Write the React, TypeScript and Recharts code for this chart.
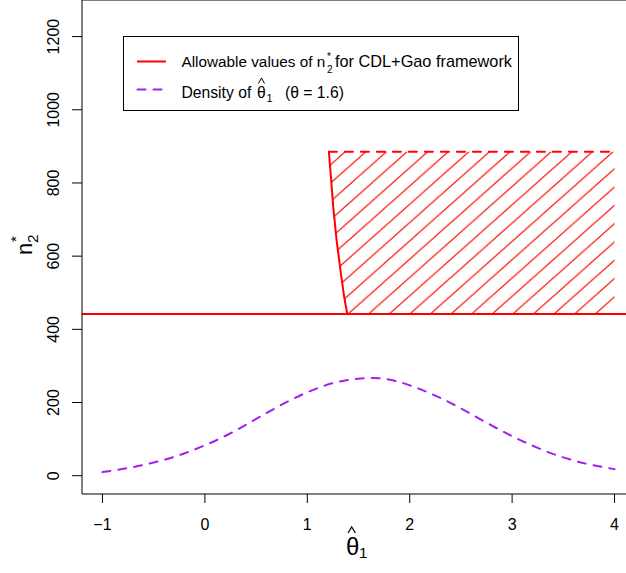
import {ComposedChart, XAxis, YAxis, Line, Area, ReferenceLine} from 'recharts';

const FONT = '"Liberation Sans", Arial, Helvetica, sans-serif';

// density of theta-hat_1
const densityX = [-1, -0.75, -0.5, -0.25, 0, 0.25, 0.5, 0.75, 1, 1.25, 1.5, 1.75, 2, 2.25, 2.5, 2.75, 3, 3.25, 3.5, 3.75, 4];
const densityY = [10, 21, 36, 56, 83, 116, 155, 194, 228, 253, 265, 265, 247, 219, 184, 145, 108, 76, 50, 31, 18];

// left (curved) edge of the allowable region
const edgeX = [1.211, 1.228, 1.253, 1.286, 1.328, 1.36, 1.39];
const edgeY = [885, 826, 735, 644, 553, 489, 442];

const allowLow = 442;
const allowHigh = 885;
const allowRight = 4;

const xTicks = [-1, 0, 1, 2, 3, 4];
const yTicks = [0, 200, 400, 600, 800, 1000, 1200];
const xDomain: [number, number] = [-1.2, 4.2];
const yDomain: [number, number] = [-50, 1300];

const legendLabels = ['Allowable values of n', 'for CDL+Gao framework', 'Density of', '(\u03b8 = 1.6)'];

const densityData = densityX.map((x, i) => ({x, y: densityY[i]}));
const edgeData = edgeX.map((x, i) => ({x, y: edgeY[i]}));
const hatchData = [
  ...edgeX.map((x, i) => ({x, range: [edgeY[i], allowHigh]})),
  {x: allowRight, range: [allowLow, allowHigh]},
];
const topData = [
  {x: edgeX[0], y: allowHigh},
  {x: allowRight, y: allowHigh},
];

const HW = 20.6;
const HH = 18.3;

const YTick = (props: any) => {
  const {x, y, payload} = props;
  return (
    <text
      x={x}
      y={y}
      transform={`rotate(-90, ${x}, ${y})`}
      textAnchor="middle"
      fontSize={16}
      fontFamily={FONT}
      fill="#000"
    >
      {payload.value}
    </text>
  );
};

export default function App() {
  return (
    <div style={{position: 'absolute', left: 0, top: 0, width: 626, height: 573, overflow: 'hidden', background: '#fff'}}>
      <ComposedChart width={640} height={573} margin={{top: 0, right: 5, bottom: 0, left: 0}}>
        <defs>
          <pattern id="hatch" patternUnits="userSpaceOnUse" x={348} y={314 - HH} width={HW} height={HH}>
            <path
              d={`M${-HW},${HH} L${HW},${-HH} M${-HW},${2 * HH} L${2 * HW},${-HH} M0,${2 * HH} L${2 * HW},0`}
              stroke="#FF0000"
              strokeWidth={1.2}
              fill="none"
            />
          </pattern>
        </defs>
        <XAxis
          type="number"
          dataKey="x"
          domain={xDomain}
          ticks={xTicks}
          allowDataOverflow
          height={79}
          tickSize={9}
          tickMargin={16}
          tickFormatter={(v: number) => String(v).replace('-', '\u2212')}
          tick={{fill: '#000', fontSize: 16, fontFamily: FONT}}
          tickLine={{stroke: '#000'}}
          axisLine={{stroke: '#000'}}
        />
        <YAxis
          type="number"
          domain={yDomain}
          ticks={yTicks}
          allowDataOverflow
          width={82}
          tickSize={10}
          tickMargin={13}
          tick={<YTick />}
          tickLine={{stroke: '#000'}}
          axisLine={{stroke: '#000'}}
        />
        <ReferenceLine y={yDomain[1]} stroke="#000" />
        <Area
          data={hatchData}
          dataKey="range"
          type="linear"
          fill="url(#hatch)"
          fillOpacity={1}
          stroke="none"
          isAnimationActive={false}
        />
        <Line data={edgeData} dataKey="y" type="linear" stroke="#FF0000" strokeWidth={2} dot={false} isAnimationActive={false} />
        <Line
          data={topData}
          dataKey="y"
          type="linear"
          stroke="#FF0000"
          strokeWidth={2}
          strokeDasharray="8 8"
          strokeLinecap="round"
          dot={false}
          isAnimationActive={false}
        />
        <ReferenceLine y={allowLow} stroke="#FF0000" strokeWidth={2} />
        <Line
          data={densityData}
          dataKey="y"
          type="natural"
          stroke="#A020F0"
          strokeWidth={2}
          strokeDasharray="8 8"
          strokeLinecap="round"
          dot={false}
          isAnimationActive={false}
        />

        {/* legend */}
        <g fontFamily={FONT} fill="#000">
          <rect x={123.5} y={36.5} width={395} height={74} fill="#fff" stroke="#000" />
          <line x1={137} x2={166} y1={61.5} y2={61.5} stroke="#FF0000" strokeWidth={2} />
          <line
            x1={137.5}
            x2={166}
            y1={89.5}
            y2={89.5}
            stroke="#A020F0"
            strokeWidth={2}
            strokeDasharray="8 8"
            strokeLinecap="round"
          />
          <text x={181.5} y={66.5} fontSize={15.3}>{legendLabels[0]}</text>
          <text x={327} y={73} fontSize={10}>2</text>
          <text x={327} y={59.5} fontSize={10}>*</text>
          <text x={335} y={66.5} fontSize={15.7} textLength={177} lengthAdjust="spacingAndGlyphs">{legendLabels[1]}</text>
          <text x={181.5} y={98} fontSize={15.7}>{legendLabels[2]}</text>
          <text x={257} y={98} fontSize={15.7}>{'\u03b8'}</text>
          <path d="M258.5,83.5 L261.5,78 L264.5,83.5" stroke="#000" fill="none" strokeWidth={1} />
          <text x={266.5} y={101.5} fontSize={11}>1</text>
          <text x={285} y={98} fontSize={15.7}>{legendLabels[3]}</text>
        </g>

        {/* axis titles */}
        <g fontFamily={FONT} fill="#000">
          <text x={346} y={555} fontSize={24}>{'\u03b8'}</text>
          <path d="M348,533 L351.7,527 L355.4,533" stroke="#000" fill="none" strokeWidth={1.2} />
          <text x={359} y={558} fontSize={15}>1</text>
          <text transform="rotate(-90, 31.7, 255)">
            <tspan x={31.7} y={255} fontSize={22}>n</tspan>
            <tspan x={43.6} y={261.6} fontSize={15.4}>2</tspan>
            <tspan x={44.7} y={244.3} fontSize={15.4}>*</tspan>
          </text>
        </g>
      </ComposedChart>
    </div>
  );
}
